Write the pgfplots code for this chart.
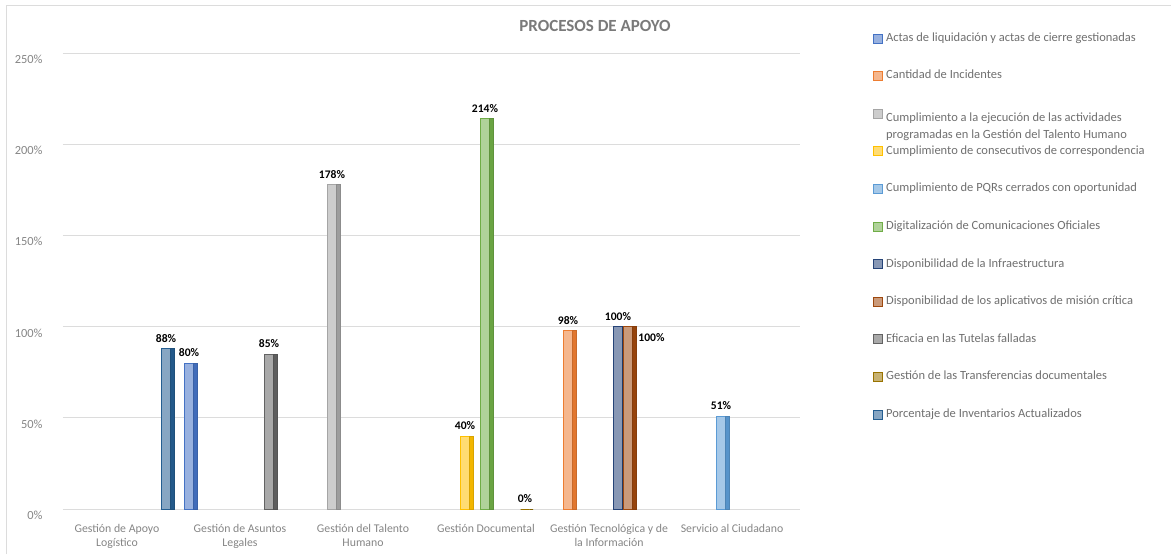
\documentclass[border=0pt]{standalone}
\usepackage{fontspec}
\setmainfont{Carlito}
\usepackage{pgfplots}
\pgfplotsset{compat=1.18}
\definecolor{c1}{HTML}{4472C4}
\definecolor{c2}{HTML}{ED7D31}
\definecolor{c3}{HTML}{A5A5A5}
\definecolor{c4}{HTML}{FFC000}
\definecolor{c5}{HTML}{5B9BD5}
\definecolor{c6}{HTML}{70AD47}
\definecolor{c7}{HTML}{264478}
\definecolor{c8}{HTML}{9E480E}
\definecolor{c9}{HTML}{636363}
\definecolor{c10}{HTML}{997300}
\definecolor{c11}{HTML}{255E91}
\definecolor{tickgray}{HTML}{858585}
\definecolor{legendgray}{HTML}{6F6F6F}
\definecolor{titlegray}{HTML}{7A7A7A}
\definecolor{gridgray}{HTML}{DCDCDC}
\pgfplotsset{
  front/.style={fill=#1!55!white, draw=#1, line width=0.4pt,
    nodes near coords={\pgfmathprintnumber{\pgfplotspointmeta}\%}},
  side/.style={fill=#1!95!black, draw=#1!85!black, line width=0.3pt, bar width=1.75pt, forget plot},
}
\begin{document}
\begin{tikzpicture}
\useasboundingbox (0,0) rectangle (585.5pt,277pt);
\draw[gridgray, line width=0.5pt] (3pt,0) -- (3pt,274.5pt) -- (585.5pt,274.5pt);
\begin{axis}[
  at={(31.5pt,22.5pt)}, anchor=south west,
  scale only axis, width=368.5pt, height=228pt,
  ybar, bar width=4.5pt,
  xmin=-0.4146, xmax=5.577, ymin=0, ymax=250,
  axis line style={draw=none},
  major tick length=0pt,
  ytick={0,50,100,150,200,250},
  ymajorgrids, major grid style={gridgray, line width=0.5pt},
  /pgf/number format/assume math mode=true,
  yticklabel={\pgfmathprintnumber{\tick}\%},
  yticklabel style={anchor=east, inner sep=0pt, xshift=-10pt, yshift=-3.2pt,
    font=\fontsize{6.2pt}{7.5pt}\selectfont, text=tickgray},
  xtick={0,1,2,3,4,5},
  xticklabels={{Gestión de Apoyo\\Logístico},{Gestión de Asuntos\\Legales},{Gestión del Talento\\Humano},{Gestión Documental},{Gestión Tecnológica y de\\la Información},{Servicio al Ciudadano}},
  xticklabel style={align=center, anchor=north, inner sep=0pt, yshift=-7.5pt, xshift=1.5pt,
    font=\fontsize{5.9pt}{7pt}\selectfont, text=tickgray},
  title={PROCESOS DE APOYO},
  title style={at={(axis description cs:0.7218,1.0329)}, anchor=center,
    font=\bfseries\fontsize{8.5pt}{10pt}\selectfont, text=titlegray},
  every node near coord/.append style={anchor=south, inner sep=0pt, yshift=2.8pt,
    font=\bfseries\fontsize{5.8pt}{7pt}\selectfont, text=black},
  legend style={at={(axis description cs:1.0990,1.0439)}, anchor=north west,
    draw=none, fill=none, inner sep=0pt, row sep=13.6pt, column sep=1.5pt,
    font=\fontsize{6.25pt}{8.5pt}\selectfont, text=legendgray,
    nodes={inner sep=0pt, text height=4pt, text depth=1.2pt}},
  legend cell align=left,
  legend image code/.code={\draw[#1] (0pt,-2.25pt) rectangle (4.5pt,2.25pt);},
]
% 1 Actas
\addplot[front=c1, bar shift=-24pt] coordinates {(1,80)};
\addlegendentry{Actas de liquidación y actas de cierre gestionadas}
\addplot[side=c1, bar shift=-20.875pt] coordinates {(1,80)};
% 2 Incidentes
\addplot[front=c2, bar shift=-19pt] coordinates {(4,98)};
\addlegendentry{Cantidad de Incidentes}
\addplot[side=c2, bar shift=-15.875pt] coordinates {(4,98)};
% 3 Talento
\addplot[front=c3, bar shift=-14pt] coordinates {(2,178)};
\addlegendentry{\smash{\raisebox{-2.5pt}{\parbox[t]{200pt}{Cumplimiento a la ejecución de las actividades\\programadas en la Gestión del Talento Humano}}}}
\addplot[side=c3, bar shift=-10.875pt] coordinates {(2,178)};
% 4 consecutivos
\addplot[front=c4, bar shift=-9pt] coordinates {(3,40)};
\addlegendentry{Cumplimiento de consecutivos de correspondencia}
\addplot[side=c4, bar shift=-5.875pt] coordinates {(3,40)};
% 5 PQRs
\addplot[front=c5, bar shift=-4pt] coordinates {(5,51)};
\addlegendentry{Cumplimiento de PQRs cerrados con oportunidad}
\addplot[side=c5, bar shift=-0.875pt] coordinates {(5,51)};
% 6 Digitalizacion
\addplot[front=c6, bar shift=1pt] coordinates {(3,214)};
\addlegendentry{Digitalización de Comunicaciones Oficiales}
\addplot[side=c6, bar shift=4.125pt] coordinates {(3,214)};
% 7 Infraestructura
\addplot[front=c7, bar shift=6pt] coordinates {(4,100)};
\addlegendentry{Disponibilidad de la Infraestructura}
\addplot[side=c7, bar shift=9.125pt] coordinates {(4,100)};
% 8 aplicativos
\addplot[front=c8, bar shift=11pt,
  every node near coord/.append style={anchor=west, xshift=5pt, yshift=-8.5pt}] coordinates {(4,100)};
\addlegendentry{Disponibilidad de los aplicativos de misión crítica}
\addplot[side=c8, bar shift=14.125pt] coordinates {(4,100)};
% 9 Eficacia
\addplot[front=c9, bar shift=16pt] coordinates {(1,85)};
\addlegendentry{Eficacia en las Tutelas falladas}
\addplot[side=c9, bar shift=19.125pt] coordinates {(1,85)};
% 10 Transferencias
\addplot[front=c10, bar shift=21pt] coordinates {(3,0)};
\addlegendentry{Gestión de las Transferencias documentales}
\addplot[side=c10, bar shift=24.125pt] coordinates {(3,0)};
% 11 Porcentaje
\addplot[front=c11, bar shift=26pt] coordinates {(0,88)};
\addlegendentry{Porcentaje de Inventarios Actualizados}
\addplot[side=c11, bar shift=29.125pt] coordinates {(0,88)};
\end{axis}
\end{tikzpicture}
\end{document}
